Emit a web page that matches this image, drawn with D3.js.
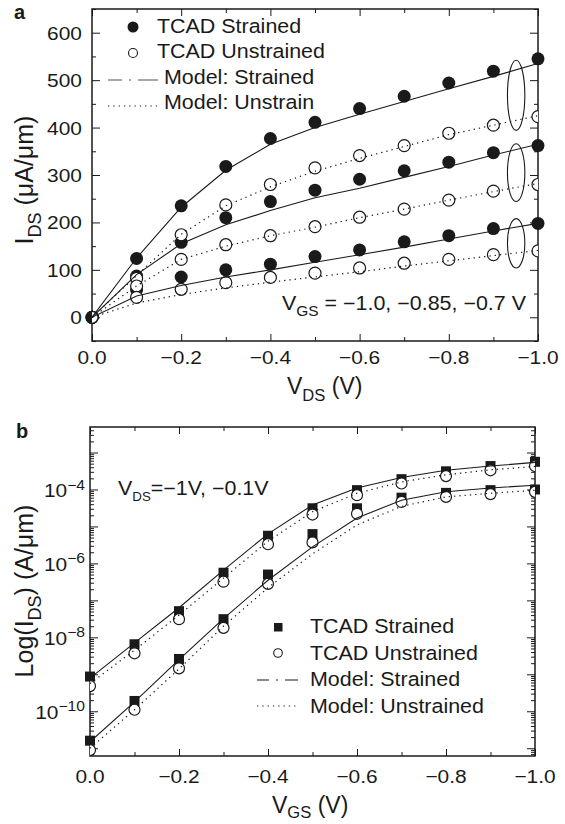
<!DOCTYPE html>
<html>
<head>
<meta charset="utf-8">
<script src="https://cdn.jsdelivr.net/npm/d3@7"></script>
<style>
  body { margin: 0; background: #fff; }
  text { font-family: "Liberation Sans", Arial, Helvetica, sans-serif; fill: #1a1a1a; }
</style>
</head>
<body>
<div class="container"></div>
<script>
// ---- data ----
var vSweep = [0, -0.1, -0.2, -0.3, -0.4, -0.5, -0.6, -0.7, -0.8, -0.9, -1.0];

// panel a: I_DS (uA/um) vs V_DS, groups VGS = -1.0, -0.85, -0.7
var tcadStrainedA = [
  [0, 124, 235, 318, 377, 411, 440, 466, 494, 519, 545],
  [0, 87, 158, 210, 244, 268, 291, 309, 327, 347, 362],
  [0, 58, 85, 100, 112, 128, 142, 159, 172, 187, 198]
];
var tcadUnstrainedA = [
  [0, 82, 174, 237, 280, 315, 341, 362, 388, 405, 423],
  [0, 66, 122, 153, 172, 191, 211, 228, 247, 266, 280],
  [0, 42, 59, 73, 84, 93, 104, 114, 122, 132, 140]
];
var modelStrainedA = [
  [0, 125, 232, 310, 365, 400, 428, 455, 482, 508, 535],
  [0, 90, 155, 195, 225, 252, 272, 295, 318, 342, 365],
  [0, 45, 67, 85, 100, 116, 132, 148, 165, 182, 198]
];
var modelUnstrainedA = [
  [0, 88, 175, 235, 275, 308, 335, 360, 385, 405, 425],
  [0, 66, 122, 150, 172, 190, 210, 228, 247, 265, 282],
  [0, 30, 48, 62, 74, 85, 96, 108, 119, 130, 141]
];
var ellipseV = -0.951, ellipseHalfV = 0.0195;
var ellipseMid = [468, 305, 156];
var ellipseHalf = [74, 61, 52];

// panel b: I_DS (A/um) vs V_GS, groups VDS = -1 V, -0.1 V
var tcadStrainedB = [
  [8.7e-10, 6.5e-9, 5.1e-8, 5.6e-7, 5.6e-6, 3.1e-5, 9.6e-5, 1.9e-4, 3.1e-4, 4.3e-4, 5.6e-4],
  [1.6e-11, 1.9e-10, 2.6e-9, 3.1e-8, 5e-7, 6.2e-6, 3.1e-5, 6e-5, 8.1e-5, 9.6e-5, 1e-4]
];
var tcadUnstrainedB = [
  [4.8e-10, 3.7e-9, 3.1e-8, 3.2e-7, 3.3e-6, 2.1e-5, 7e-5, 1.45e-4, 2.3e-4, 3.3e-4, 4.3e-4],
  [8.9e-12, 1.1e-10, 1.45e-9, 1.8e-8, 2.8e-7, 3.7e-6, 2.2e-5, 4.6e-5, 6.3e-5, 7.5e-5, 8.6e-5]
];
var modelStrainedB = [
  [7.9e-10, 7.1e-9, 6.3e-8, 6.6e-7, 6.3e-6, 3.8e-5, 1.1e-4, 2.1e-4, 3.3e-4, 4.3e-4, 5.4e-4],
  [1.5e-11, 1.8e-10, 2.5e-9, 3.2e-8, 3.5e-7, 2.8e-6, 1.7e-5, 5.1e-5, 8.7e-5, 1.1e-4, 1.3e-4]
];
var modelUnstrainedB = [
  [5.6e-10, 4.5e-9, 4e-8, 4e-7, 4e-6, 2.5e-5, 7.9e-5, 1.6e-4, 2.5e-4, 3.4e-4, 4.2e-4],
  [1e-11, 1.1e-10, 1.4e-9, 2e-8, 2.2e-7, 1.8e-6, 1.1e-5, 3.5e-5, 6.3e-5, 7.9e-5, 9.5e-5]
];

var xTicksMajor = [0, -0.2, -0.4, -0.6, -0.8, -1.0];
var xTicksMinor = [-0.1, -0.3, -0.5, -0.7, -0.9];
var yTicksA = [0, 100, 200, 300, 400, 500, 600];
var yTicksAMinor = [-50, 50, 150, 250, 350, 450, 550, 650];
var yTicksB = [1e-10, 1e-8, 1e-6, 1e-4];
var legendLabelsA = ["TCAD Strained", "TCAD Unstrained", "Model: Strained", "Model: Unstrain"];
var legendLabelsB = ["TCAD Strained", "TCAD Unstrained", "Model: Strained", "Model: Unstrained"];

// ---- setup ----
var svgWidth = 565, svgHeight = 824;
var ink = "#1a1a1a";
var stretch = 1.1;
var svg = d3.select(".container").append("svg")
    .attr("width", svgWidth)
    .attr("height", svgHeight);

var boxA = {left: 92, top: 9, right: 538, bottom: 341};
var boxB = {left: 90, top: 427, right: 535, bottom: 756};

var xA = d3.scaleLinear().domain([0, -1]).range([boxA.left, boxA.right]);
var yA = d3.scaleLinear().domain([-50, 650]).range([boxA.bottom, boxA.top]);
var xB = d3.scaleLinear().domain([0, -1]).range([boxB.left, boxB.right]);
var yB = d3.scaleLog().domain([Math.pow(10, -11.21), Math.pow(10, -2.31)]).range([boxB.bottom, boxB.top]);

function fmtV(v) { return v === 0 ? "0.0" : "\u2212" + Math.abs(v).toFixed(1); }

function styleTicks(g) {
  g.select(".domain").remove();
  g.selectAll("line").attr("stroke", ink).attr("stroke-width", 1);
  g.selectAll("text").remove();
}

// text with optional sub/superscript parts; parts = [[str, "sub"|"sup"|""], ...]
function richText(parent, x, y, size, parts, opts) {
  opts = opts || {};
  var tr = "translate(" + x + "," + y + ")";
  if (opts.rotate) tr += " rotate(" + opts.rotate + ")";
  tr += " scale(" + (opts.stretch || 1) + ",1)";
  var t = parent.append("text")
      .attr("transform", tr)
      .attr("font-size", size)
      .attr("text-anchor", opts.anchor || "start")
      .attr("font-weight", opts.weight || null);
  var shift = 0;
  parts.forEach(function(p) {
    var target = p[1] === "sub" ? size * (opts.subDrop || 0.3) : p[1] === "sup" ? -size * 0.42 : 0;
    t.append("tspan")
        .attr("dy", target - shift)
        .attr("font-size", p[1] ? size * (opts.subScale || 0.72) : size)
        .text(p[0]);
    shift = target;
  });
  return t;
}

function frame(box, x, y, yMajor, yMinor, clipId) {
  var g = svg.append("g");
  // bottom / top x ticks (pointing inward)
  g.append("g").attr("transform", "translate(0," + box.bottom + ")")
      .call(d3.axisBottom(x).tickValues(xTicksMajor).tickSize(-7))
      .call(styleTicks);
  g.append("g").attr("transform", "translate(0," + box.bottom + ")")
      .call(d3.axisBottom(x).tickValues(xTicksMinor).tickSize(-4))
      .call(styleTicks);
  g.append("g").attr("transform", "translate(0," + box.top + ")")
      .call(d3.axisTop(x).tickValues(xTicksMajor).tickSize(-7))
      .call(styleTicks);
  g.append("g").attr("transform", "translate(0," + box.top + ")")
      .call(d3.axisTop(x).tickValues(xTicksMinor).tickSize(-4))
      .call(styleTicks);
  // left / right y ticks
  g.append("g").attr("transform", "translate(" + box.left + ",0)")
      .call(d3.axisLeft(y).tickValues(yMajor).tickSize(-8))
      .call(styleTicks);
  g.append("g").attr("transform", "translate(" + box.left + ",0)")
      .call(d3.axisLeft(y).tickValues(yMinor).tickSize(-4))
      .call(styleTicks);
  g.append("g").attr("transform", "translate(" + box.right + ",0)")
      .call(d3.axisRight(y).tickValues(yMajor).tickSize(-8))
      .call(styleTicks);
  g.append("g").attr("transform", "translate(" + box.right + ",0)")
      .call(d3.axisRight(y).tickValues(yMinor).tickSize(-4))
      .call(styleTicks);
  g.append("rect")
      .attr("x", box.left).attr("y", box.top)
      .attr("width", box.right - box.left).attr("height", box.bottom - box.top)
      .attr("fill", "none").attr("stroke", ink).attr("stroke-width", 1.5);
  svg.append("clipPath").attr("id", clipId).append("rect")
      .attr("x", box.left).attr("y", box.top)
      .attr("width", box.right - box.left).attr("height", box.bottom - box.top);
  return g;
}

// ================= panel a =================
var gA = frame(boxA, xA, yA, yTicksA, yTicksAMinor, "clipA");

xTicksMajor.forEach(function(v) {
  richText(svg, xA(v), 364, 19, [[fmtV(v), ""]], {anchor: "middle", stretch: stretch});
});
yTicksA.forEach(function(v) {
  richText(svg, 82, yA(v) + 7, 19, [[String(v), ""]], {anchor: "end", stretch: stretch});
});

var lineA = d3.line().x(function(d, i) { return xA(vSweep[i]); }).y(function(d) { return yA(d); });

tcadStrainedA.forEach(function(s) {
  svg.append("g").selectAll("circle").data(s).enter().append("circle")
      .attr("cx", function(d, i) { return xA(vSweep[i]); })
      .attr("cy", function(d) { return yA(d); })
      .attr("r", 6.5).attr("fill", ink);
});
tcadUnstrainedA.forEach(function(s) {
  svg.append("g").attr("clip-path", "url(#clipA)").selectAll("circle").data(s).enter().append("circle")
      .attr("cx", function(d, i) { return xA(vSweep[i]); })
      .attr("cy", function(d) { return yA(d); })
      .attr("r", 6).attr("fill", "#fff").attr("stroke", ink).attr("stroke-width", 1.2);
});
modelStrainedA.forEach(function(s) {
  svg.append("path").datum(s).attr("d", lineA).attr("clip-path", "url(#clipA)")
      .attr("fill", "none").attr("stroke", ink).attr("stroke-width", 1.1);
});
modelUnstrainedA.forEach(function(s) {
  svg.append("path").datum(s).attr("d", lineA).attr("clip-path", "url(#clipA)")
      .attr("fill", "none").attr("stroke", ink).attr("stroke-width", 1.2)
      .attr("stroke-dasharray", "1.3,4");
});
ellipseMid.forEach(function(m, i) {
  svg.append("ellipse")
      .attr("cx", xA(ellipseV))
      .attr("cy", yA(m))
      .attr("rx", xA(ellipseV - ellipseHalfV) - xA(ellipseV))
      .attr("ry", yA(m - ellipseHalf[i]) - yA(m))
      .attr("fill", "none").attr("stroke", ink).attr("stroke-width", 1.1);
});

// legend a
var legA = svg.append("g");
legA.append("circle").attr("cx", 133).attr("cy", 27).attr("r", 5.5).attr("fill", ink);
legA.append("circle").attr("cx", 133).attr("cy", 53).attr("r", 4.5).attr("fill", "none").attr("stroke", ink).attr("stroke-width", 1.1);
legA.append("line").attr("x1", 108).attr("x2", 158).attr("y1", 80).attr("y2", 80)
    .attr("stroke", "#555").attr("stroke-width", 1.2).attr("stroke-dasharray", "14,7,2,7,20");
legA.append("line").attr("x1", 108).attr("x2", 158).attr("y1", 106).attr("y2", 106)
    .attr("stroke", ink).attr("stroke-width", 1.2).attr("stroke-dasharray", "1.3,4");
[157, 157, 164, 164].forEach(function(x, i) {
  richText(legA, x, [33, 58, 84, 109][i], 19.5, [[legendLabelsA[i], ""]], {stretch: stretch});
});

richText(svg, 282, 310, 19.5, [["V", ""], ["GS", "sub"], [" = \u22121.0, \u22120.85, \u22120.7 V", ""]], {stretch: stretch});
richText(svg, 287, 394, 23, [["V", ""], ["DS", "sub"], [" (V)", ""]], {});
richText(svg, 33, 180, 25, [["I", ""], ["DS", "sub"], [" (\u03bcA/\u03bcm)", ""]], {rotate: -90, anchor: "middle"});
richText(svg, 14, 19, 20, [["a", ""]], {weight: "bold"});

// ================= panel b =================
var minorB = [];
for (var k = -12; k <= -3; k++) {
  for (var m = 2; m <= 9; m++) {
    var val = m * Math.pow(10, k);
    if (val > yB.domain()[0] && val < yB.domain()[1]) minorB.push(val);
  }
}
var decadesB = [1e-11, 1e-10, 1e-9, 1e-8, 1e-7, 1e-6, 1e-5, 1e-4, 1e-3].filter(function(v) {
  return v > yB.domain()[0] && v < yB.domain()[1];
});
var gB = frame(boxB, xB, yB, decadesB, minorB, "clipB");

xTicksMajor.forEach(function(v) {
  richText(svg, xB(v), 783, 19, [[fmtV(v), ""]], {anchor: "middle", stretch: stretch});
});
yTicksB.forEach(function(v) {
  richText(svg, 85, yB(v) + 8, 19, [["10", ""], ["\u2212" + Math.round(-Math.log10(v)), "sup"]], {anchor: "end", stretch: stretch, subScale: 0.75});
});

var lineB = d3.line().x(function(d, i) { return xB(vSweep[i]); }).y(function(d) { return yB(d); });

tcadStrainedB.forEach(function(s) {
  svg.append("g").selectAll("rect").data(s).enter().append("rect")
      .attr("x", function(d, i) { return xB(vSweep[i]) - 5; })
      .attr("y", function(d) { return yB(d) - 5; })
      .attr("width", 10).attr("height", 10).attr("fill", ink);
});
tcadUnstrainedB.forEach(function(s) {
  svg.append("g").attr("clip-path", "url(#clipB)").selectAll("circle").data(s).enter().append("circle")
      .attr("cx", function(d, i) { return xB(vSweep[i]); })
      .attr("cy", function(d) { return yB(d); })
      .attr("r", 5.5).attr("fill", "#fff").attr("stroke", ink).attr("stroke-width", 1.2);
});
modelStrainedB.forEach(function(s) {
  svg.append("path").datum(s).attr("d", lineB).attr("clip-path", "url(#clipB)")
      .attr("fill", "none").attr("stroke", ink).attr("stroke-width", 1.1);
});
modelUnstrainedB.forEach(function(s) {
  svg.append("path").datum(s).attr("d", lineB).attr("clip-path", "url(#clipB)")
      .attr("fill", "none").attr("stroke", ink).attr("stroke-width", 1.2)
      .attr("stroke-dasharray", "1.3,4");
});

// legend b
var legB = svg.append("g");
legB.append("rect").attr("x", 274).attr("y", 623).attr("width", 8.5).attr("height", 8.5).attr("fill", ink);
legB.append("circle").attr("cx", 278).attr("cy", 653).attr("r", 4.3).attr("fill", "none").attr("stroke", ink).attr("stroke-width", 1.1);
legB.append("line").attr("x1", 257).attr("x2", 298).attr("y1", 680).attr("y2", 680)
    .attr("stroke", ink).attr("stroke-width", 1.1).attr("stroke-dasharray", "12,7,2,7,20");
legB.append("line").attr("x1", 257).attr("x2", 298).attr("y1", 706).attr("y2", 706)
    .attr("stroke", ink).attr("stroke-width", 1.2).attr("stroke-dasharray", "1.3,4");
legendLabelsB.forEach(function(l, i) {
  richText(legB, 310, [633, 660, 686, 713][i], 19.5, [[l, ""]], {stretch: stretch});
});

richText(svg, 118, 495, 19.5, [["V", ""], ["DS", "sub"], ["=\u22121V, \u22120.1V", ""]], {stretch: stretch, subScale: 0.62});
richText(svg, 272, 813, 23, [["V", ""], ["GS", "sub"], [" (V)", ""]], {subDrop: 0.22});
richText(svg, 33, 591, 25, [["Log(I", ""], ["DS", "sub"], [") (A/\u03bcm)", ""]], {rotate: -90, anchor: "middle"});
richText(svg, 16, 438, 20, [["b", ""]], {weight: "bold"});
</script>
</body>
</html>
